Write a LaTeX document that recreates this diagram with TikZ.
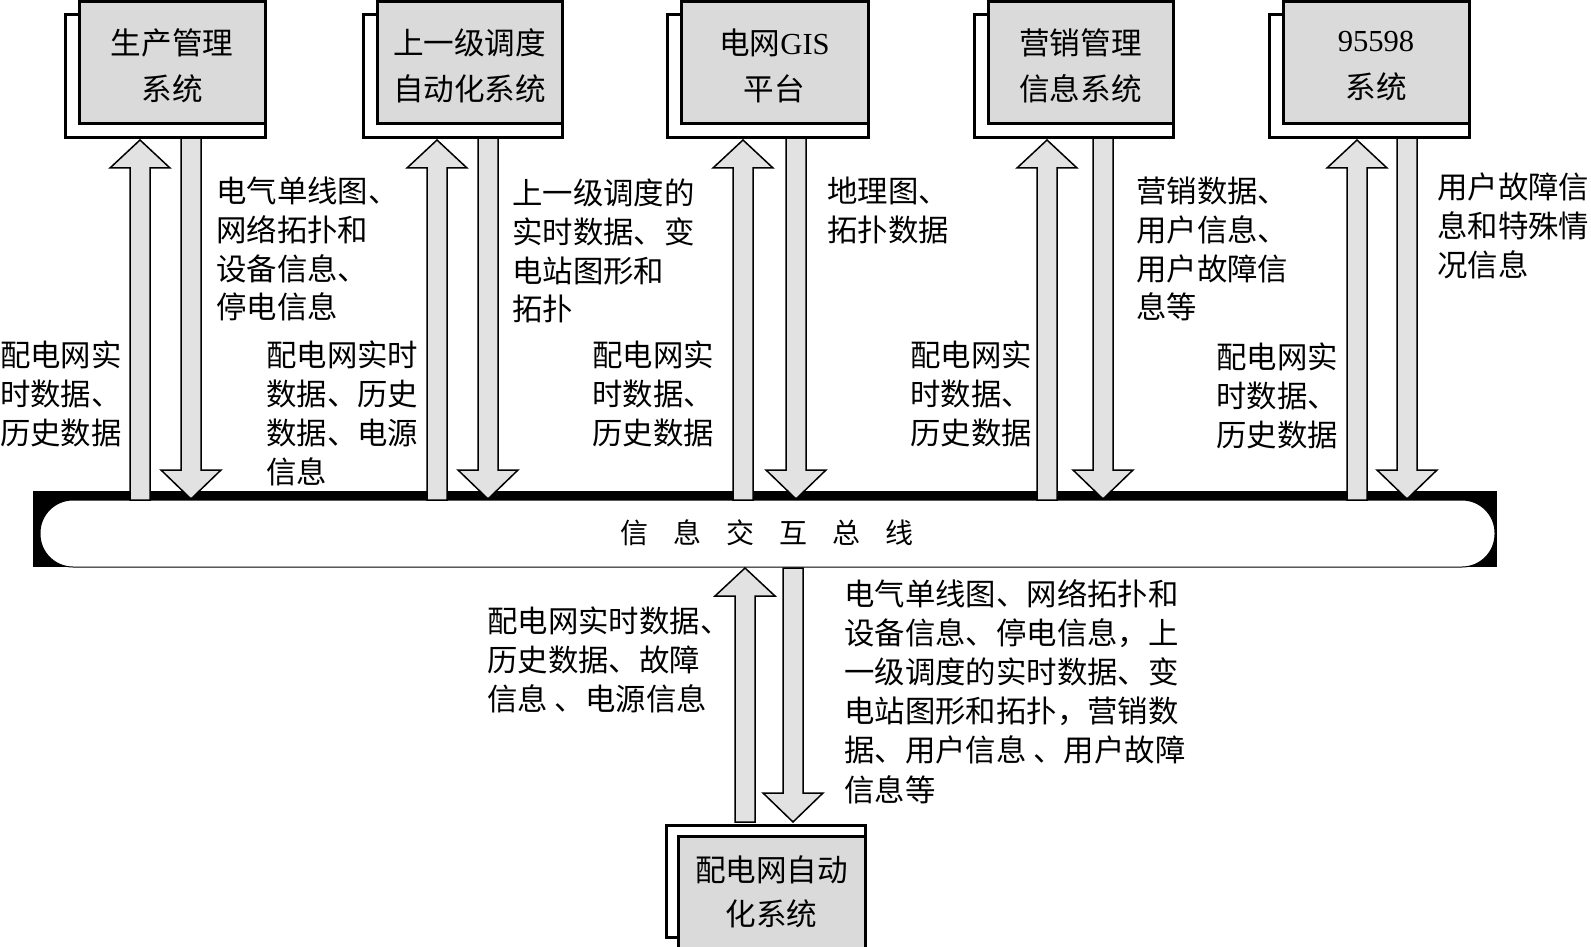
\documentclass[tikz,border=0pt]{standalone}
\usepackage{fontspec}
\setmainfont{Noto Sans CJK SC}
\newfontfamily\latinf{Liberation Serif}
\definecolor{boxgray}{RGB}{218,218,218}
\definecolor{arrgray}{RGB}{226,226,226}
\tikzset{
  boxback/.style={draw=black, fill=white, line width=3pt},
  boxfront/.style={draw=black, fill=boxgray, line width=3pt},
  blk/.style={draw=black, fill=arrgray, line width=1.5pt, line join=miter},
  lbl/.style={anchor=north west, inner sep=0pt, align=left, font=\fontsize{30.4}{38.7}\selectfont},
  systitle/.style={align=center, inner sep=0pt, font=\fontsize{30.6}{46.5}\selectfont},
}
% block arrow pointing up: x, tip y, bottom y
\newcommand\blkup[3]{\draw[blk] (#1-10,#3) -- (#1-10,#2+28) -- (#1-30,#2+28) -- (#1,#2) -- (#1+30,#2+28) -- (#1+10,#2+28) -- (#1+10,#3) -- cycle;}
% block arrow pointing down: x, top y, tip y
\newcommand\blkdown[3]{\draw[blk] (#1-10,#2) -- (#1-10,#3-29) -- (#1-30,#3-29) -- (#1,#3) -- (#1+30,#3-29) -- (#1+10,#3-29) -- (#1+10,#2) -- cycle;}
% top system box: name, left, right, text
\newcommand\sysbox[4]{%
  \draw[boxback] (#2,15) rectangle (#3,138);
  \draw[boxfront] (#2+14,2) rectangle (#3,124);
  \node[systitle] (#1) at ({(#2+14+#3)/2},66) {#4};}
\begin{document}
\begin{tikzpicture}[x=1pt,y=-1pt]
\useasboundingbox (0,0) rectangle (1591,947);
\fill[white] (0,0) rectangle (1591,947);
% bus
\fill[black] (33,491) rectangle (1497,567);
\draw[fill=white, line width=1pt, rounded corners=33pt] (40,500) rectangle (1495,567);
\node (bus) at (767,533) {\fontsize{28}{28}\selectfont 信\hspace{25pt}息\hspace{25pt}交\hspace{25pt}互\hspace{25pt}总\hspace{25pt}线};
% arrows top
\blkup{140}{140}{500}
\blkdown{191}{138}{499}
\blkup{437}{140}{500}
\blkdown{488}{138}{499}
\blkup{743}{140}{500}
\blkdown{796}{138}{499}
\blkup{1047}{140}{500}
\blkdown{1103}{138}{499}
\blkup{1357}{140}{500}
\blkdown{1407}{138}{499}
% arrows bottom
\blkup{745}{568}{822}
\blkdown{793}{568}{822}
% boxes
\sysbox{pms}{65}{265}{生产管理\\系统}
\sysbox{upd}{363}{562}{上一级调度\\自动化系统}
\sysbox{gis}{667}{868}{电网{\latinf GIS}\\平台}
\sysbox{mkt}{974}{1173}{营销管理\\信息系统}
\sysbox{cs}{1269}{1469}{{\latinf 95598}\\系统}
\draw[boxback] (666,825) rectangle (865,937);
\draw[boxfront] (678,836) rectangle (865,965);
\node[systitle, font=\fontsize{30.6}{44}\selectfont] (dms) at (771.5,892) {配电网自动\\化系统};
% labels
\node[lbl] (l1) at (216,177) {电气单线图、\\网络拓扑和\\设备信息、\\停电信息};
\node[lbl] (l2) at (0,341) {配电网实\\时数据、\\历史数据};
\node[lbl] (l3) at (266,341) {配电网实时\\数据、历史\\数据、电源\\信息};
\node[lbl] (l4) at (512,179) {上一级调度的\\实时数据、变\\电站图形和\\拓扑};
\node[lbl] (l5) at (592,341) {配电网实\\时数据、\\历史数据};
\node[lbl] (l6) at (827,177) {地理图、\\拓扑数据};
\node[lbl] (l7) at (910,341) {配电网实\\时数据、\\历史数据};
\node[lbl] (l8) at (1136,177) {营销数据、\\用户信息、\\用户故障信\\息等};
\node[lbl] (l9) at (1216,343) {配电网实\\时数据、\\历史数据};
\node[lbl] (l10) at (1437,173) {用户故障信\\息和特殊情\\况信息};
\node[lbl] (l11) at (487,607) {配电网实时数据、\\历史数据、故障\\信息 、电源信息};
\node[lbl, font=\fontsize{30.4}{39.2}\selectfont] (l12) at (844,579) {电气单线图、网络拓扑和\\设备信息、停电信息，上\\一级调度的实时数据、变\\电站图形和拓扑，营销数\\据、用户信息 、用户故障\\信息等};
\end{tikzpicture}
\end{document}
